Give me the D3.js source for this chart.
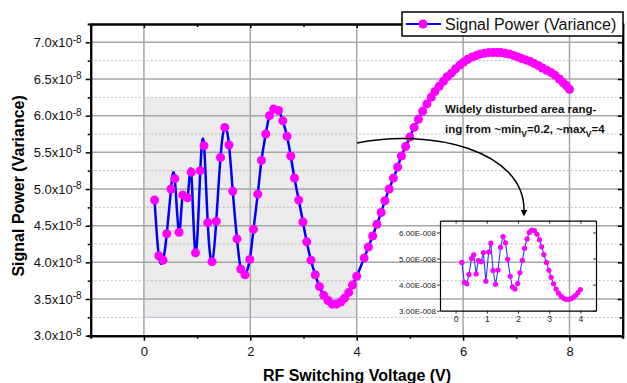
<!DOCTYPE html>
<html>
<head>
<meta charset="utf-8">
<script src="https://cdn.jsdelivr.net/npm/d3@7"></script>
<style>
  html, body { margin: 0; padding: 0; background: #fff; }
  text { font-family: "Liberation Sans", Arial, sans-serif; }
</style>
</head>
<body>
<div id="container"></div>
<script>
// values, power in units of 1e-8
const voltage = [
  0.20, 0.28, 0.36, 0.43, 0.51, 0.58, 0.66, 0.73, 0.82, 0.89,
  0.97, 1.06, 1.13, 1.20, 1.28, 1.36, 1.44, 1.52, 1.60, 1.67,
  1.75, 1.82, 1.90, 1.99, 2.06, 2.14, 2.21, 2.29, 2.36, 2.44,
  2.53, 2.61, 2.69, 2.76, 2.83, 2.91, 2.99, 3.06, 3.14, 3.22,
  3.30, 3.38, 3.46, 3.54, 3.62, 3.70, 3.77, 3.85, 3.92, 4.00,
  4.14, 4.22, 4.30, 4.38, 4.46, 4.53, 4.61, 4.69, 4.77, 4.84,
  4.92, 5.00, 5.08, 5.16, 5.24, 5.32, 5.40, 5.47, 5.55, 5.63,
  5.70, 5.78, 5.86, 5.94, 6.01, 6.09, 6.17, 6.25, 6.32, 6.40,
  6.48, 6.56, 6.64, 6.71, 6.79, 6.87, 6.95, 7.03, 7.10, 7.18,
  7.26, 7.34, 7.42, 7.49, 7.57, 7.65, 7.73, 7.81, 7.88, 7.94,
  8.00
];
const power = [
  4.85, 4.09, 4.03, 4.39, 5.00, 5.14, 4.41, 4.92, 4.88, 5.23,
  4.13, 5.25, 5.59, 4.54, 4.01, 4.56, 5.43, 5.84, 5.60, 4.97,
  4.32, 3.91, 3.83, 4.04, 4.45, 4.93, 5.39, 5.75, 6.00, 6.09,
  6.07, 5.93, 5.72, 5.45, 5.15, 4.85, 4.55, 4.28, 4.03, 3.83,
  3.67, 3.55, 3.48, 3.43, 3.43, 3.46, 3.51, 3.59, 3.69, 3.81,
  4.06, 4.21, 4.36, 4.52, 4.68, 4.84, 5.00, 5.15, 5.30, 5.45,
  5.58, 5.71, 5.84, 5.95, 6.06, 6.16, 6.25, 6.33, 6.40, 6.47,
  6.53, 6.58, 6.64, 6.69, 6.73, 6.77, 6.80, 6.82, 6.84, 6.85,
  6.86, 6.86, 6.86, 6.86, 6.85, 6.84, 6.82, 6.80, 6.78, 6.76,
  6.74, 6.71, 6.68, 6.65, 6.62, 6.59, 6.55, 6.50, 6.45, 6.41,
  6.36
];

const xTicks = [0, 2, 4, 6, 8];
const xMinorTicks = [1, 3, 5, 7];
const yTicks = [3.0, 3.5, 4.0, 4.5, 5.0, 5.5, 6.0, 6.5, 7.0];
const yMinorTicks = [3.25, 3.75, 4.25, 4.75, 5.25, 5.75, 6.25, 6.75];
const shadeRange = {x: [0, 4], y: [3.25, 6.25]};

const insetXTicks = [0, 1, 2, 3, 4];
const insetYTicks = [3, 4, 5, 6];
const insetYLabels = ["3.00E-008", "4.00E-008", "5.00E-008", "6.00E-008"];

const seriesName = "Signal Power (Variance)";
const xTitle = "RF Switching Voltage (V)";
const yTitle = "Signal Power (Variance)";

const W = 627, H = 383;
const L = 90.7, R = 622.7, T = 24, B = 335.7;

const points = voltage.map((v, i) => ({v, p: power[i]}));
const insetPoints = points.filter(d => d.v <= 4.0);

const svg = d3.select("#container").append("svg")
    .attr("width", W)
    .attr("height", H);
svg.append("rect").attr("width", W).attr("height", H).attr("fill", "#fff");

const x = d3.scaleLinear().domain([-1, 9]).range([L, R]);
const y = d3.scaleLinear().domain([3.0, 7.25]).range([B, T]);

// shaded disturbed area
svg.append("rect")
    .attr("x", x(shadeRange.x[0]))
    .attr("y", y(shadeRange.y[1]))
    .attr("width", x(shadeRange.x[1]) - x(shadeRange.x[0]))
    .attr("height", y(shadeRange.y[0]) - y(shadeRange.y[1]))
    .attr("fill", "#ebebeb");
svg.append("line")
    .attr("x1", x(shadeRange.x[0])).attr("x2", x(shadeRange.x[1]))
    .attr("y1", y(shadeRange.y[0])).attr("y2", y(shadeRange.y[0]))
    .attr("stroke", "#c6c6f0").attr("stroke-width", 1);

// grid
const grid = svg.append("g");
grid.selectAll("line.minor")
    .data(yMinorTicks)
    .join("line")
    .attr("class", "minor")
    .attr("x1", L).attr("x2", R)
    .attr("y1", d => y(d)).attr("y2", d => y(d))
    .attr("stroke", "#bdbdbd")
    .attr("stroke-width", 1)
    .attr("stroke-dasharray", "2,2");
grid.selectAll("line.hmajor")
    .data(yTicks.filter(d => d > 3.0))
    .join("line")
    .attr("class", "hmajor")
    .attr("x1", L).attr("x2", R)
    .attr("y1", d => y(d)).attr("y2", d => y(d))
    .attr("stroke", "#a6a6a6")
    .attr("stroke-width", 1.5);
grid.selectAll("line.vmajor")
    .data(xTicks)
    .join("line")
    .attr("class", "vmajor")
    .attr("x1", d => x(d)).attr("x2", d => x(d))
    .attr("y1", T).attr("y2", B)
    .attr("stroke", "#a6a6a6")
    .attr("stroke-width", 1.5);

// axes
const font = "Liberation Sans, Arial, sans-serif";
const bottom = svg.append("g")
    .attr("transform", `translate(0,${B})`)
    .call(d3.axisBottom(x).tickValues(xTicks).tickSize(5).tickSizeOuter(0).tickPadding(6));
svg.append("g")
    .attr("transform", `translate(0,${B})`)
    .call(d3.axisBottom(x).tickValues(xMinorTicks).tickSize(3).tickFormat(""));
const left = svg.append("g")
    .attr("transform", `translate(${L},0)`)
    .call(d3.axisLeft(y).tickValues(yTicks).tickSize(5).tickSizeOuter(0).tickPadding(4));
svg.append("g")
    .attr("transform", `translate(${L},0)`)
    .call(d3.axisLeft(y).tickValues(yMinorTicks).tickSize(3).tickFormat(""));
svg.append("g")
    .attr("transform", `translate(0,${T})`)
    .call(d3.axisTop(x).tickValues(xTicks).tickSize(-4).tickSizeOuter(0).tickFormat(""));
svg.append("g")
    .attr("transform", `translate(0,${T})`)
    .call(d3.axisTop(x).tickValues(xMinorTicks).tickSize(-3).tickFormat(""));
svg.append("g")
    .attr("transform", `translate(${R},0)`)
    .call(d3.axisRight(y).tickValues(yTicks).tickSize(-5).tickSizeOuter(0).tickFormat(""));
svg.append("g")
    .attr("transform", `translate(${R},0)`)
    .call(d3.axisRight(y).tickValues(yMinorTicks).tickSize(-3).tickFormat(""));

svg.selectAll(".domain").attr("stroke", "#000").attr("stroke-width", 2);
svg.selectAll(".tick line").attr("stroke", "#000").attr("stroke-width", 1.5);
svg.selectAll(".tick text").attr("font-family", font).attr("fill", "#111");

bottom.selectAll(".tick text").attr("font-size", 13);
left.selectAll(".tick text")
    .attr("font-size", 13)
    .each(function (d) {
        const t = d3.select(this);
        t.text("");
        t.append("tspan").text(d.toFixed(1) + "x10");
        t.append("tspan").attr("dy", "-0.45em").attr("font-size", 10).text("-8");
    });

// axis titles
svg.append("text")
    .attr("x", 357).attr("y", 381)
    .attr("text-anchor", "middle")
    .attr("font-size", 16).attr("font-weight", "bold")
    .text(xTitle);
svg.append("text")
    .attr("transform", `translate(24,${(T + B) / 2 + 6}) rotate(-90)`)
    .attr("text-anchor", "middle")
    .attr("font-size", 16).attr("font-weight", "bold")
    .text(yTitle);

// main series
svg.append("path")
    .datum(points)
    .attr("fill", "none")
    .attr("stroke", "#0000ff")
    .attr("stroke-width", 2.5)
    .attr("d", d3.line().x(d => x(d.v)).y(d => y(d.p)).curve(d3.curveNatural));
svg.append("g")
    .selectAll("circle")
    .data(points)
    .join("circle")
    .attr("cx", d => x(d.v))
    .attr("cy", d => y(d.p))
    .attr("r", 4.5)
    .attr("fill", "#ff00ff");

// annotation
const note = svg.append("text")
    .attr("font-size", 11.5).attr("font-weight", "bold").attr("fill", "#111");
note.append("tspan").attr("x", 445).attr("y", 113).text("Widely disturbed area rang-");
const l2 = note.append("tspan").attr("x", 445).attr("y", 133);
l2.append("tspan").text("ing from ~min");
l2.append("tspan").attr("dy", 4).attr("font-size", 8.5).text("V");
l2.append("tspan").attr("dy", -4).text("=0.2, ~max");
l2.append("tspan").attr("dy", 4).attr("font-size", 8.5).text("V");
l2.append("tspan").attr("dy", -4).text("=4");

svg.append("defs").append("marker")
    .attr("id", "arrow")
    .attr("viewBox", "0 0 10 10")
    .attr("refX", 2).attr("refY", 5)
    .attr("markerWidth", 7).attr("markerHeight", 7)
    .attr("markerUnits", "userSpaceOnUse")
    .attr("orient", "auto")
    .append("path").attr("d", "M0,0 L10,5 L0,10 z").attr("fill", "#000");
svg.append("path")
    .attr("d", "M357,143 C430,128 525,150 524,211")
    .attr("fill", "none")
    .attr("stroke", "#000")
    .attr("stroke-width", 1.5)
    .attr("marker-end", "url(#arrow)");

// inset
const xi = d3.scaleLinear().domain([-0.5, 4.5]).range([440, 596]);
const yi = d3.scaleLinear().domain([3.0, 6.45]).range([310.7, 220.7]);
const inset = svg.append("g");
const ib = inset.append("g")
    .attr("transform", `translate(0,${yi.range()[0]})`)
    .call(d3.axisBottom(xi).tickValues(insetXTicks).tickSize(3).tickSizeOuter(0).tickPadding(2)
        .tickFormat(d3.format("d")));
const il = inset.append("g")
    .attr("transform", `translate(${xi.range()[0]},0)`)
    .call(d3.axisLeft(yi).tickValues(insetYTicks).tickSize(3).tickSizeOuter(0).tickPadding(1)
        .tickFormat((d, i) => insetYLabels[i]));
inset.append("g")
    .attr("transform", `translate(0,${yi.range()[1]})`)
    .call(d3.axisTop(xi).tickValues(insetXTicks).tickSize(-3).tickSizeOuter(0).tickFormat(""));
inset.append("g")
    .attr("transform", `translate(${xi.range()[1]},0)`)
    .call(d3.axisRight(yi).tickValues(insetYTicks).tickSize(-3).tickSizeOuter(0).tickFormat(""));
inset.selectAll(".domain").attr("stroke", "#000").attr("stroke-width", 1.2);
inset.selectAll(".tick line").attr("stroke", "#000").attr("stroke-width", 0.8);
inset.selectAll(".tick text").attr("font-family", font).attr("font-size", 8).attr("fill", "#222");
ib.selectAll(".tick text").attr("font-size", 8.5);

inset.append("path")
    .datum(insetPoints)
    .attr("fill", "none")
    .attr("stroke", "#3333ff")
    .attr("stroke-width", 1.1)
    .attr("d", d3.line().x(d => xi(d.v)).y(d => yi(d.p)));
inset.append("g")
    .selectAll("circle")
    .data(insetPoints)
    .join("circle")
    .attr("cx", d => xi(d.v))
    .attr("cy", d => yi(d.p))
    .attr("r", 2.6)
    .attr("fill", "#ff00ff");

// legend
const lg = svg.append("g");
lg.append("rect")
    .attr("x", 402).attr("y", 12).attr("width", 221).attr("height", 24)
    .attr("fill", "#fff").attr("stroke", "#000").attr("stroke-width", 1.5);
lg.append("line")
    .attr("x1", 406).attr("x2", 441).attr("y1", 24).attr("y2", 24)
    .attr("stroke", "#0000ff").attr("stroke-width", 2);
lg.append("circle").attr("cx", 423).attr("cy", 24).attr("r", 4.5).attr("fill", "#ff00ff");
lg.append("text")
    .attr("x", 445).attr("y", 30)
    .attr("font-size", 16).attr("fill", "#111")
    .text(seriesName);
</script>
</body>
</html>
